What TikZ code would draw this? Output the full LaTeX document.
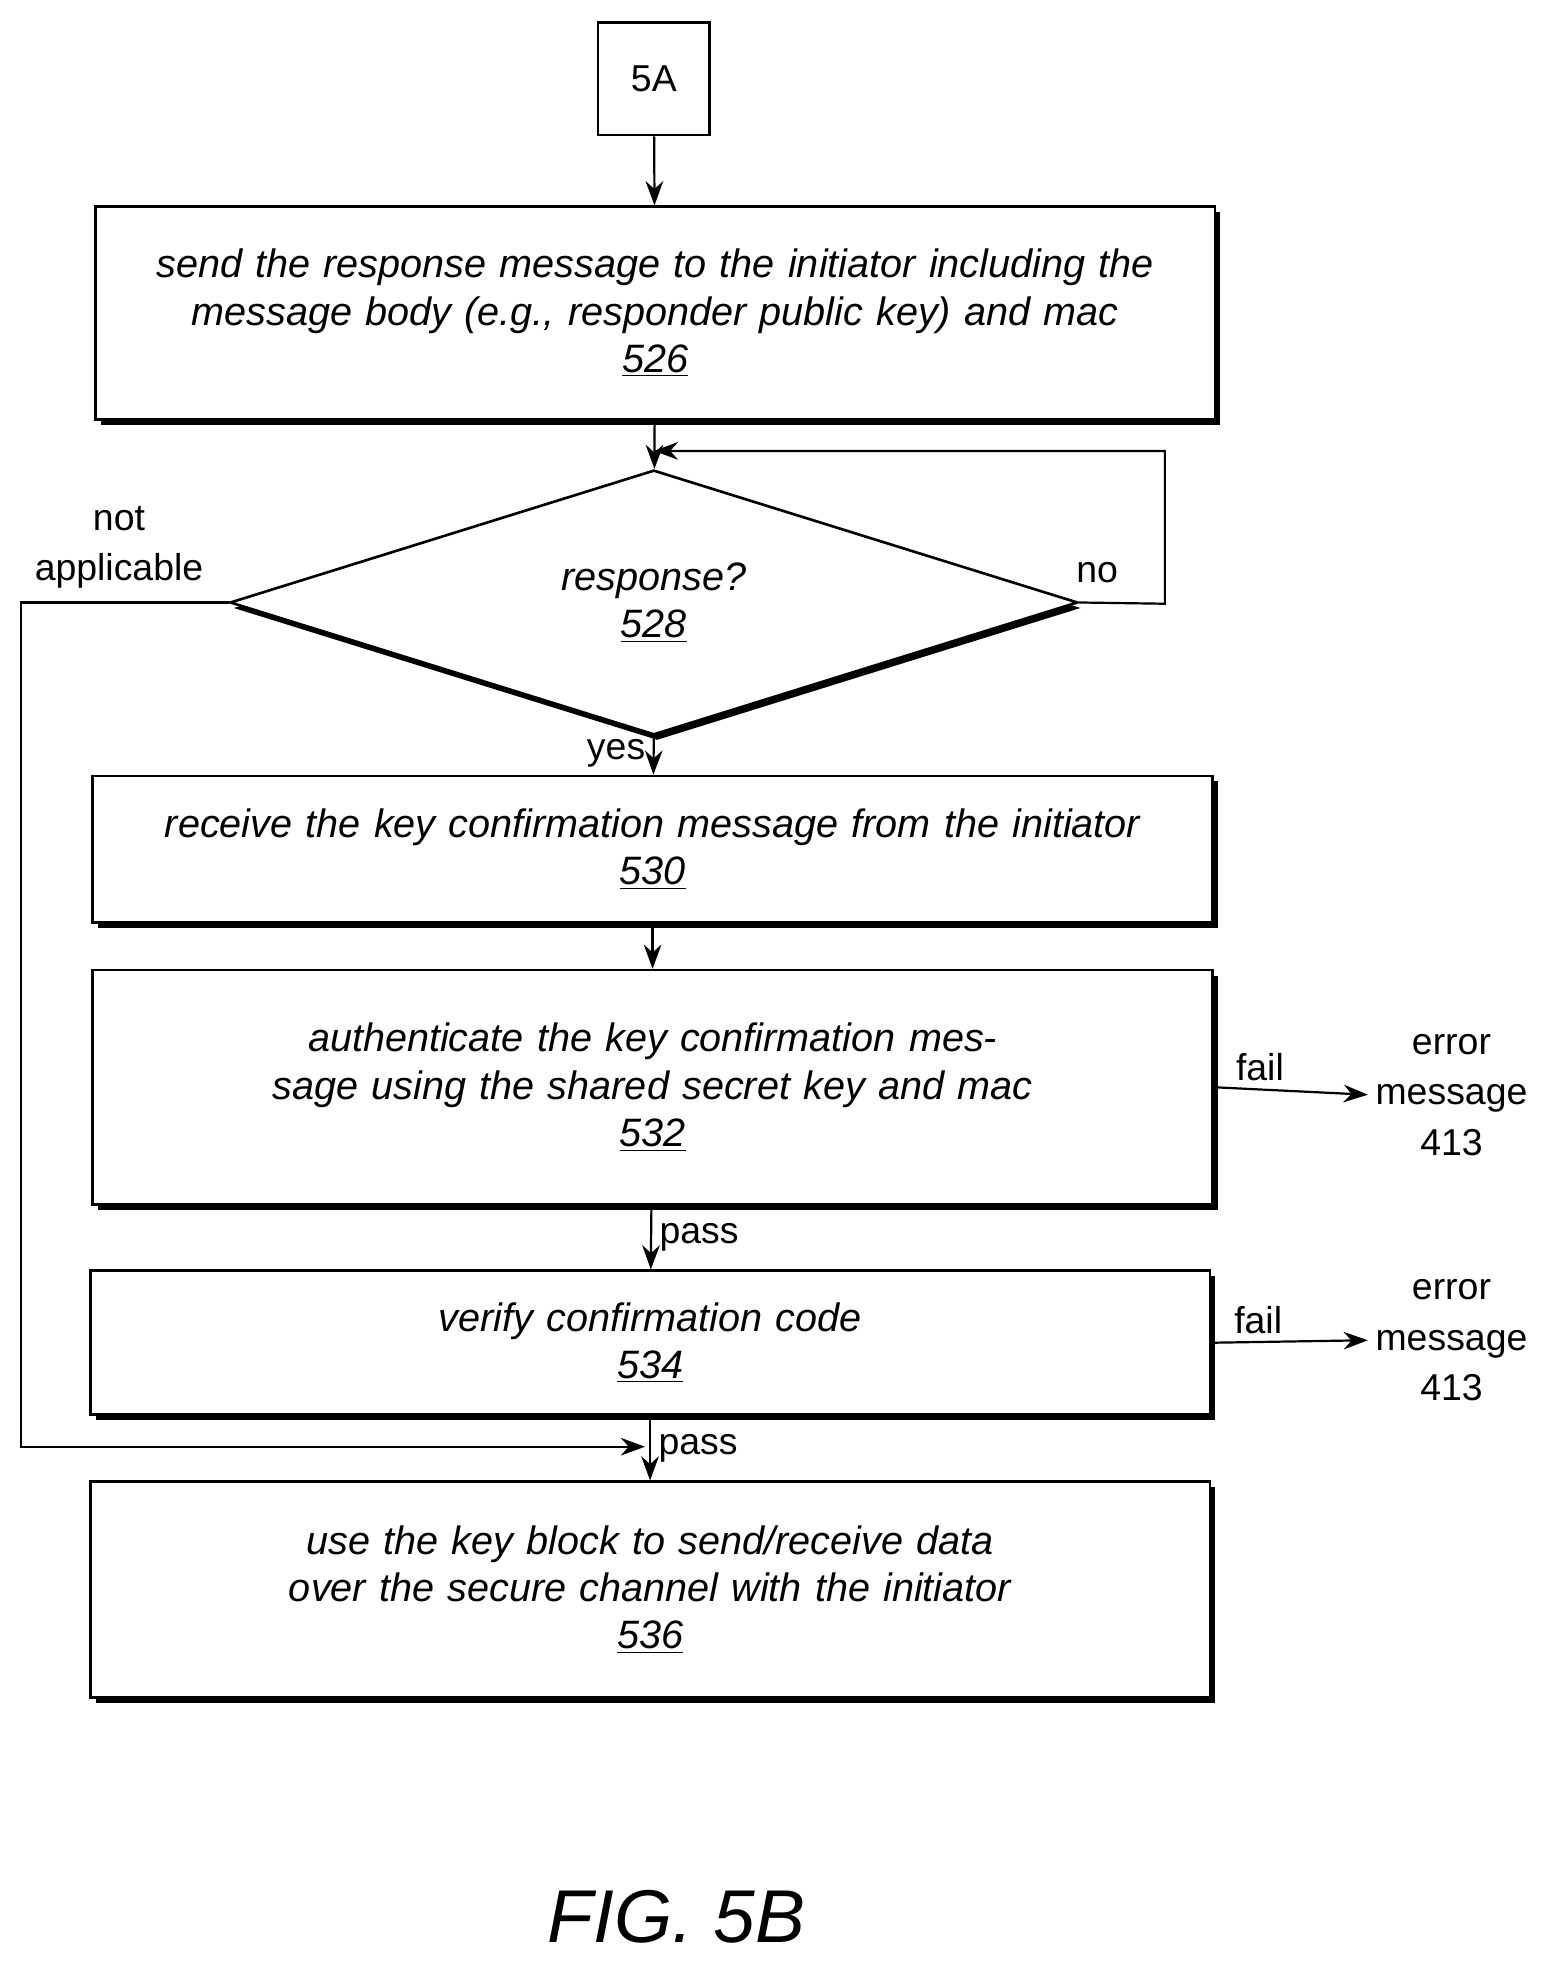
\documentclass[tikz,border=0pt]{standalone}
\usepackage{fontspec}
\setmainfont{Liberation Sans}
\usetikzlibrary{shapes.geometric,arrows.meta,shadows}
\tikzstyle{stepbox} = [rectangle, draw=black, line width=1.2pt, fill=white, text width=17.4cm, align=center, minimum width=17.88cm, font=\fontsize{18}{21.5}\selectfont\itshape, drop shadow={shadow xshift=2.5pt, shadow yshift=-2.5pt, fill=black, opacity=1}]
\tikzstyle{decision} = [diamond, draw=black, line width=1.2pt, fill=white, minimum width=13.54cm, minimum height=3.4cm, inner sep=0pt, align=center, font=\fontsize{18}{21.5}\selectfont\itshape, drop shadow={shadow xshift=1.5pt, shadow yshift=-2.5pt, fill=black, opacity=1}]
\tikzstyle{lbl} = [font=\fontsize{17}{23}\selectfont, align=center]
\tikzstyle{arrow} = [line width=1pt, -{Stealth[length=11pt,width=8pt]}]

\begin{document}
\begin{tikzpicture}[x=0.02cm, y=-0.02cm]
    \useasboundingbox (0,0) rectangle (1250,1568);
    % Flowchart nodes
    \node (conn) [rectangle, draw=black, line width=1pt, minimum width=1.78cm, minimum height=1.8cm, lbl] at (522,63) {5A};
    \node (send) [stepbox, minimum height=3.4cm] at (523,250) {send the response message to the initiator including the message body (e.g., responder public key) and mac\\\underline{526}};
    \node (resp) [decision] at (522,481) {response?\\\underline{528}};
    \node (recv) [stepbox, minimum height=2.34cm] at (521,678) {receive the key confirmation message from the initiator\\\underline{530}};
    \node (auth) [stepbox, minimum height=3.74cm] at (521,868) {authenticate the key confirmation message using the shared secret key and mac\\\underline{532}};
    \node (verify) [stepbox, minimum height=2.3cm] at (519,1072) {verify confirmation code\\\underline{534}};
    \node (use) [stepbox, minimum height=3.44cm] at (519,1269) {use the key block to send/receive data over the secure channel with the initiator\\\underline{536}};
    \node (err1) [lbl, anchor=west] at (1092,874) {error\\message\\413};
    \node (err2) [lbl, anchor=west] at (1092,1070) {error\\message\\413};
    \node (fig) [font=\fontsize{34}{40}\selectfont\itshape] at (540,1530) {FIG. 5B};
    \coordinate (loopin) at (522,360);
    \coordinate (nain) at (515,1155);

    % Arrows
    \draw [arrow] (conn) -- (send);
    \draw [arrow] (send) -- (resp);
    \draw [arrow] (resp.east) -- (930,482) |- (loopin);
    \node [lbl] at (876,457) {no};
    \draw [arrow] (resp.west) -| (17,1155) -- (nain);
    \node [lbl] at (95,437) {not\\applicable};
    \draw [arrow] (resp.south) -- node[lbl, anchor=east, pos=0.45] {yes} (recv);
    \draw [arrow] (recv) -- (auth);
    \draw [arrow] (auth) -- node[lbl, anchor=west] {pass} (verify);
    \draw [arrow] (verify) -- node[lbl, anchor=west] {pass} (use);
    \draw [arrow] (auth.east) -- node[lbl, anchor=south, pos=0.3] {fail} (err1.west);
    \draw [arrow] (verify.east) -- node[lbl, anchor=south, pos=0.3] {fail} (err2.west);
\end{tikzpicture}
\end{document}
